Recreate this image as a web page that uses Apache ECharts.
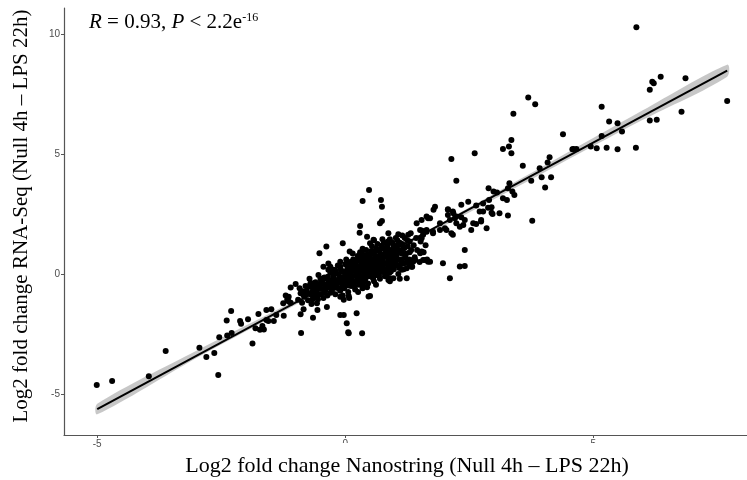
<!DOCTYPE html>
<html>
<head>
<meta charset="utf-8">
<script src="https://cdn.jsdelivr.net/npm/echarts@6/dist/echarts.min.js"></script>
<style>html,body{margin:0;padding:0;background:#fff}#c{width:747px;height:480px}</style>
</head>
<body>
<div id="c"></div>
<script>
// [Nanostring log2FC, RNA-Seq log2FC]
const lowTail = [[-5.01,-4.63],[-4.70,-4.46],[-3.96,-4.26],[-3.62,-3.21],[-2.94,-3.07],[-2.80,-3.46],[-2.64,-3.29],[-2.56,-4.21],[-2.54,-2.64],[-2.39,-1.94],[-2.30,-1.54],[-2.38,-2.56],[-2.29,-2.46],[-2.12,-1.96],[-2.10,-2.08],[-1.96,-1.89],[-1.87,-2.90],[-1.75,-1.67],[-1.81,-2.26],[-1.72,-2.33],[-1.67,-2.17],[-1.64,-2.31],[-1.59,-1.50],[-1.49,-1.47],[-1.55,-1.96],[-1.39,-1.71],[-1.24,-1.74],[-1.25,-1.22],[-1.20,-0.90],[-1.10,-0.56],[-1.00,-0.42],[-1.14,-1.15],[-0.90,-1.68],[-0.89,-2.46],[-0.95,-1.08],[-0.84,-1.47],[-0.65,-1.82],[-0.77,-0.81],[-0.70,-0.39],[-0.57,-1.22],[-0.56,-1.50],[-1.59,-1.92],[-1.44,-1.96],[-1.17,-1.08],[-1.10,-1.20],[-1.14,-0.95],[-0.90,-0.80],[-0.84,-0.89],[-0.87,-1.20],[-0.74,-0.53],[-0.64,-0.39],[-0.67,-0.74],[-0.57,-0.60],[-0.37,-1.38],[-0.03,-1.71],[0.03,-2.05],[0.07,-2.47],[0.34,-2.47],[0.06,-2.43],[-0.10,-1.71],[0.23,-1.64]];

const coreCluster = [[-0.82,-0.95],[-0.78,-0.70],[-0.75,-1.10],[-0.72,-0.50],[-0.70,-0.85],[-0.68,-1.25],[-0.65,-0.60],[-0.63,-0.95],[-0.60,-0.35],[-0.58,-0.75],[-0.55,-1.05],[-0.53,-0.50],[-0.50,-0.20],[-0.50,-0.85],[-0.48,-0.62],[-0.45,-0.40],[-0.44,-1.00],[-0.42,-0.15],[-0.40,-0.70],[-0.38,-0.45],[-0.36,-0.90],[-0.35,-0.25],[-0.33,-0.55],[-0.30,0.05],[-0.30,-0.78],[-0.28,-0.35],[-0.26,-0.60],[-0.24,-0.10],[-0.22,-0.45],[-0.20,-0.85],[-0.20,0.15],[-0.18,-0.25],[-0.16,-0.55],[-0.14,0.00],[-0.12,-0.35],[-0.10,-0.70],[-0.10,0.30],[-0.08,-0.15],[-0.06,-0.45],[-0.05,0.10],[-0.03,-0.28],[-0.02,-0.60],[0.00,0.40],[0.00,-0.05],[0.02,-0.38],[0.04,0.20],[0.05,-0.15],[0.06,-0.75],[0.08,0.05],[0.10,-0.30],[0.10,0.50],[0.12,-0.50],[0.13,0.25],[0.15,-0.10],[0.16,0.60],[0.18,-0.35],[0.20,0.10],[0.20,-0.65],[0.22,0.38],[0.24,-0.20],[0.25,0.75],[0.27,0.00],[0.28,-0.45],[0.30,0.25],[0.30,0.90],[0.32,-0.10],[0.34,0.50],[0.35,-0.60],[0.36,0.12],[0.38,0.70],[0.40,-0.25],[0.40,0.35],[0.42,1.00],[0.44,0.00],[0.45,0.55],[0.46,-0.40],[0.48,0.20],[0.50,0.80],[0.50,-0.10],[0.52,0.40],[0.54,1.15],[0.55,0.05],[0.56,0.62],[0.58,-0.30],[0.60,0.30],[0.60,0.95],[0.62,-0.05],[0.64,0.50],[0.65,1.25],[0.66,0.15],[0.68,0.75],[0.70,-0.20],[0.70,0.40],[0.72,1.05],[0.74,0.10],[0.75,0.60],[0.77,0.25],[0.78,1.30],[0.80,0.85],[0.80,-0.10],[0.82,0.45],[0.84,0.00],[0.85,1.10],[0.87,0.65],[0.88,0.30],[0.90,1.45],[0.92,0.10],[0.93,0.85],[0.95,0.50],[0.97,1.20],[0.98,0.20],[1.00,0.70],[1.02,1.50],[1.03,0.35],[1.05,1.00],[1.07,0.00],[1.08,0.60],[1.10,1.30],[1.12,0.40],[1.14,0.85],[1.15,1.60],[1.18,0.20],[1.20,1.10],[1.22,0.65],[1.25,1.40],[1.27,0.45],[1.30,0.90],[1.32,1.70],[1.35,0.30],[1.38,1.20],[1.40,0.70],[1.43,1.50],[1.45,1.00],[1.50,0.50],[1.52,1.35],[1.55,1.80],[1.58,0.90],[1.62,1.20],[1.65,0.60],[0.05,0.30],[0.12,0.10],[0.18,0.45],[0.23,0.20],[0.28,0.55],[0.33,0.30],[0.37,-0.05],[0.43,0.65],[0.47,0.30],[0.53,0.15],[0.57,0.85],[0.63,0.35],[0.67,0.55],[0.73,0.80],[0.76,0.40],[0.83,0.95],[0.86,0.50],[0.91,0.75],[0.96,1.00],[1.01,0.90],[0.15,0.85],[0.35,1.05],[0.02,0.60],[-0.15,0.35],[0.58,1.40],[0.44,-0.55],[0.26,-0.75],[0.62,-0.45],[0.90,-0.30],[1.10,-0.20],[-0.05,-0.90],[0.08,-1.00],[0.95,1.30],[1.05,1.40],[1.15,1.25],[1.20,1.50],[0.85,1.20],[0.75,1.45],[1.30,1.35],[-0.54,-0.04],[-0.44,-0.18],[-0.50,-0.39],[-0.30,0.30],[-0.23,0.17],[-0.34,0.17],[-0.10,0.51],[-0.10,-0.95],[-0.03,-1.08],[0.07,-0.92],[0.47,-0.94],[0.50,-0.92],[-0.44,0.30],[-0.34,0.44],[0.09,0.93],
[-0.62,-0.42],[-0.57,-0.88],[-0.52,-0.62],[-0.47,-0.28],[-0.43,-0.78],[-0.39,-0.55],[-0.35,-0.12],[-0.31,-0.42],[-0.27,-0.72],[-0.25,-0.22],[-0.21,-0.58],[-0.19,0.02],[-0.17,-0.38],[-0.13,-0.62],[-0.11,-0.12],[-0.09,0.18],[-0.07,-0.32],[-0.04,-0.52],[-0.01,0.05],[0.01,-0.22],[0.03,0.42],[0.06,0.08],[0.07,-0.48],[0.09,0.28],[0.11,-0.12],[0.14,0.40],[0.14,-0.28],[0.17,0.15],[0.19,-0.52],[0.21,0.55],[0.23,-0.05],[0.24,0.30],[0.26,-0.32],[0.29,0.12],[0.29,0.68],[0.31,-0.22],[0.33,0.42],[0.34,0.85],[0.36,-0.40],[0.38,0.22],[0.39,0.55],[0.41,0.10],[0.42,-0.15],[0.44,0.80],[0.46,0.45],[0.49,0.05],[0.51,0.62],[0.52,0.95],[0.54,0.28],[0.56,-0.18],[0.58,0.50],[0.59,0.12],[0.61,0.75],[0.63,1.05],[0.64,0.22],[0.66,0.42],[0.68,-0.05],[0.69,0.95],[0.71,0.60],[0.73,0.25],[0.74,1.18],[0.76,0.08],[0.78,0.70],[0.79,0.45],[0.81,1.05],[0.83,0.20],[0.85,0.80],[0.86,1.35],[0.88,0.55],[0.89,0.05],[0.92,1.00],[0.94,0.32],[0.96,0.65],[0.99,1.15],[1.01,0.50],[1.04,0.80],[1.06,1.20],[1.09,0.25],[1.11,0.95],[1.13,0.60],[1.17,1.05],[1.19,0.45],[1.23,0.85],[1.26,1.15],[1.29,0.60],[1.33,1.00],[-0.72,-0.20],[-0.66,-1.05],[-0.60,-0.60],[-0.80,-0.50],[-0.86,-0.72],[-0.92,-0.60]];

const midBand = [[-0.52,0.86],[-0.38,1.14],[-0.05,1.28],[0.48,3.50],[0.35,3.04],[0.72,3.08],[0.74,2.80],[0.70,2.11],[0.74,2.21],[0.30,2.00],[0.29,1.72],[0.44,1.55],[0.50,1.28],[0.57,1.42],[0.87,1.70],[1.07,1.65],[1.27,1.63],[1.44,2.11],[1.54,2.25],[1.64,2.39],[1.71,2.32],[1.81,2.80],[1.51,1.83],[1.64,1.76],[1.77,1.70],[1.14,1.00],[1.20,0.79],[1.31,0.58],[1.41,0.58],[1.51,0.86],[1.67,0.51],[1.57,0.58],[1.14,0.17],[1.24,0.24],[1.34,0.30],[1.24,-0.18],[0.90,-0.18],[1.54,0.93],[1.10,0.58],[0.97,-0.18],[0.87,-0.25],[1.37,0.51],[1.78,2.67],[1.67,2.32],[2.07,2.67],[2.18,2.53],[2.21,2.32],[2.11,2.25],[2.24,2.11],[2.34,2.36],[2.41,2.25],[2.31,1.97],[2.38,2.04],[1.91,2.11],[2.01,1.90],[2.04,1.83],[2.14,1.70],[2.17,1.63],[1.91,1.83],[1.77,1.76],[1.64,1.83],[1.54,1.49],[1.57,1.63],[2.41,1.00],[1.97,0.45],[1.61,0.58],[1.71,0.51],[2.31,0.31],[2.41,0.33],[2.11,-0.18],[2.07,2.70],[2.17,2.60],[2.07,2.46],[2.24,2.39],[2.71,2.60],[2.95,2.55],[2.88,2.76],[2.74,2.18],[2.58,2.11]];

const highTail = [[4.39,5.82],[4.60,5.21],[3.18,5.21],[3.30,5.31],[3.35,5.58],[3.35,5.03],[2.61,5.03],[2.14,4.79],[3.58,4.51],[3.92,4.40],[4.08,4.64],[4.12,4.86],[3.75,3.88],[3.96,4.03],[4.15,4.03],[4.03,3.60],[2.24,3.88],[2.89,3.57],[2.99,3.43],[3.06,3.39],[3.31,3.78],[3.28,3.57],[3.37,3.43],[3.41,3.29],[3.18,3.15],[3.26,3.08],[2.90,3.08],[2.78,2.94],[2.64,2.85],[2.48,3.01],[2.34,2.88],[2.95,2.78],[2.97,2.50],[3.11,2.53],[3.28,2.43],[2.78,2.60],[2.74,2.25],[2.64,2.08],[2.54,1.83],[2.85,1.90],[3.77,2.22],[7.70,7.21],[6.86,8.15],[6.36,8.22],[6.19,8.01],[6.22,7.94],[6.14,7.67],[6.78,6.76],[6.14,6.39],[6.28,6.42],[5.17,6.97],[5.32,6.35],[5.49,6.28],[5.58,5.93],[5.17,5.75],[4.58,5.20],[4.66,5.21],[4.95,5.31],[5.07,5.24],[5.27,5.26],[5.49,5.20],[5.86,5.26],[5.87,10.28],[3.69,7.35],[3.83,7.07],[3.39,6.67]];

// linear fit and its confidence band
const fitX = [-5.0, 7.7];
const fitY = [-5.63, 8.47];
const bandX  = [-5.0, -3.0, -1.0, 0.6, 2.0, 4.0, 6.0, 7.7];
const bandLo = [-5.85, -3.50, -1.28, 0.52, 2.02, 4.22, 6.42, 8.22];
const bandHi = [-5.41, -3.20, -1.10, 0.66, 2.20, 4.50, 6.82, 8.72];

const xTicks = [-5, 0, 5];
const yTicks = [-5, 0, 5, 10];

const chart = echarts.init(document.getElementById('c'));
const axisCol = '#555';
const labCol = '#4d4d4d';
chart.setOption({
  animation: false,
  grid: {left: 64, right: 0, top: 8, bottom: 45, containLabel: false},
  xAxis: {
    type: 'value', min: -5.67, max: 8.10,
    splitLine: {show: false},
    axisLine: {onZero: false, lineStyle: {color: axisCol, width: 1.2}},
    axisTick: {customValues: xTicks, length: 3, lineStyle: {color: axisCol}},
    axisLabel: {customValues: xTicks, color: labCol, fontSize: 10, fontFamily: 'Liberation Sans', margin: 4,
      formatter: v => v < 0 ? '-' + Math.abs(v) : String(v)}
  },
  yAxis: {
    type: 'value', min: -6.71, max: 11.08,
    splitLine: {show: false},
    axisLine: {onZero: false, lineStyle: {color: axisCol, width: 1.2}},
    axisTick: {customValues: yTicks, length: 3, lineStyle: {color: axisCol}},
    axisLabel: {customValues: yTicks, color: labCol, fontSize: 10, fontFamily: 'Liberation Sans', margin: 4,
      formatter: v => v < 0 ? '-' + Math.abs(v) : String(v)}
  },
  series: [
    {type: 'custom', z: 2, silent: true,
     data: bandX.map((x, i) => [x, bandLo[i], bandHi[i]]),
     renderItem: function (params, api) {
       if (params.dataIndex !== 0) return null;
       const pts = [];
       for (let i = 0; i < bandX.length; i++) pts.push(api.coord([bandX[i], bandHi[i]]));
       for (let i = bandX.length - 1; i >= 0; i--) pts.push(api.coord([bandX[i], bandLo[i]]));
       return {type: 'polygon', shape: {points: pts, smooth: 0.3}, style: {fill: 'rgba(153,153,153,0.55)'}};
     }},
    {type: 'line', data: fitX.map((x, i) => [x, fitY[i]]), showSymbol: false, z: 3, silent: true,
     lineStyle: {color: '#000', width: 2}},
    {type: 'scatter', data: lowTail.concat(coreCluster, midBand, highTail), symbolSize: 6,
     itemStyle: {color: '#000', opacity: 1}, z: 5, silent: true}
  ],
  graphic: [
    {type: 'rect', z: 100, shape: {x: 175, y: 443, width: 470, height: 37}, style: {fill: '#fff'}},
    {type: 'text', z: 101, x: 407, y: 466, style: {
       text: 'Log2 fold change Nanostring (Null 4h – LPS 22h)',
       font: '22px "Liberation Serif"', fill: '#000', align: 'center', verticalAlign: 'middle'}},
    {type: 'text', z: 101, x: 21, y: 216, rotation: Math.PI / 2, style: {
       text: 'Log2 fold change RNA-Seq (Null 4h – LPS 22h)',
       font: '21px "Liberation Serif"', fill: '#000', align: 'center', verticalAlign: 'middle'}},
    {type: 'text', z: 101, x: 89, y: 12, style: {
       text: '{i|R} = 0.93, {i|P} < 2.2e{s|-16}', font: '21px "Liberation Serif"', fill: '#000',
       rich: {i: {fontStyle: 'italic', fontSize: 21, fontFamily: 'Liberation Serif'},
              s: {fontSize: 12, fontFamily: 'Liberation Serif', verticalAlign: 'top', padding: [0,0,8,0]}}}}
  ]
});
</script>
</body>
</html>
